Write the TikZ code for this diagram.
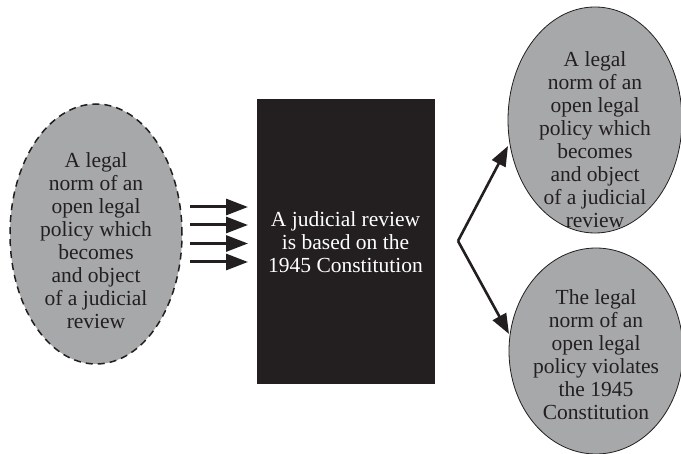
\documentclass[tikz,border=0pt]{standalone}
\usepackage{fontspec}
\setmainfont{Liberation Serif}
\usetikzlibrary{shapes.geometric,arrows.meta}
\definecolor{oval}{HTML}{A7A8AA}
\definecolor{ink}{HTML}{231F20}
\tikzset{
  oval/.style={ellipse, fill=oval, inner sep=0pt},
  txt/.style={align=center, font=\fontsize{21.5pt}{23pt}\selectfont, text=ink, inner sep=0pt},
  fatarrow/.style={draw=ink, line width=3pt, -{Triangle[length=22pt,width=16pt]}},
  varrow/.style={draw=ink, line width=2.6pt, -{Triangle[length=20pt,width=15pt]}}
}
\begin{document}
\begin{tikzpicture}[x=1pt,y=-1pt]
\useasboundingbox (0,0) rectangle (681,454);
% left ellipse
\node[oval, draw=ink, line width=1.5pt, dash pattern=on 7pt off 5pt,
      minimum width=172pt, minimum height=260pt] (le) at (96,234) {};
\node[txt] (ltext) at (96,241) {A legal\\norm of an\\open legal\\policy which\\becomes\\and object\\of a judicial\\review};
% central box
\node[fill=ink, draw=ink, minimum width=177pt, minimum height=284pt, inner sep=0pt] (box) at (345.5,241.5) {};
\node[txt, text=white] (btext) at (345.5,242) {A judicial review\\is based on the\\1945 Constitution};
% right ellipses
\node[oval, draw=ink, line width=0.8pt, minimum width=174pt, minimum height=226pt] (te) at (595,120) {};
\node[txt] (ttext) at (595,140) {A legal\\norm of an\\open legal\\policy which\\becomes\\and object\\of a judicial\\review};
\node[oval, draw=ink, line width=0.8pt, minimum width=174pt, minimum height=206pt] (be) at (596,351) {};
\node[txt] (bttext) at (596,355) {The legal\\norm of an\\open legal\\policy violates\\the 1945\\Constitution};
% four arrows
\foreach \i/\y in {1/207,2/225,3/243.5,4/262}{
  \coordinate (s\i) at (190,\y);
  \coordinate (e\i) at (248,\y);
  \draw[fatarrow] (s\i) -- (e\i);
}
% V connector
\coordinate (v) at (458,241);
\coordinate (tu) at (508,146);
\coordinate (td) at (509,334);
\draw[varrow] (v) -- (tu);
\draw[varrow] (v) -- (td);
\end{tikzpicture}
\end{document}
